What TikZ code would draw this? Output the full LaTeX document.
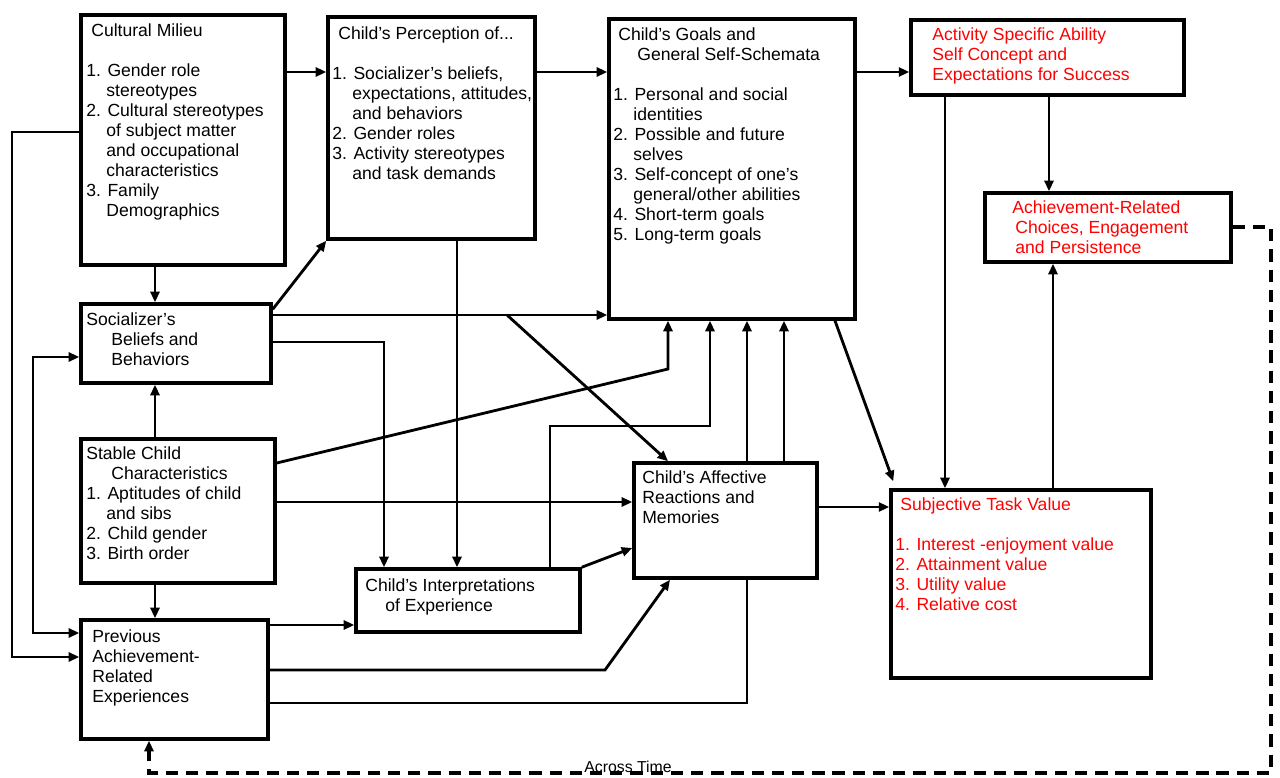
\documentclass[tikz,border=0pt]{standalone}
\usepackage{fontspec}
\setmainfont{Liberation Sans}
\usetikzlibrary{arrows.meta,fit}
\newcommand{\hind}{\hspace*{4mm}}

\begin{document}
\begin{tikzpicture}[x=0.2mm, y=-0.2mm, >={Triangle[length=2.1mm,width=1.8mm]},
		box_style/.style={draw=black, line width=2pt, inner sep=0pt},
		text_style/.style={anchor=north west, inner sep=0pt, align=left, font=\fontsize{10}{11.4}\selectfont},
		red_text/.style={text_style, text=red},
		edge_style/.style={draw=black, line width=1.6pt, ->},
		loop_style/.style={draw=black, line width=2pt, dash pattern=on 7pt off 4.5pt, ->}]
		
		\useasboundingbox (0,0) rectangle (1280,778);
		
		\node[box_style, fit={(81,15) (285,265)}] (milieu) {};
		\node[box_style, fit={(328,17) (535,239)}] (percep) {};
		\node[box_style, fit={(609,19) (855,319)}] (goals) {};
		\node[box_style, fit={(911,20) (1184,95)}] (asc) {};
		\node[box_style, fit={(985,193) (1231,262)}] (choices) {};
		\node[box_style, fit={(81,304) (271,383)}] (social) {};
		\node[box_style, fit={(81,439) (275,583)}] (stable) {};
		\node[box_style, fit={(81,620) (268,739)}] (prev) {};
		\node[box_style, fit={(356,569) (580,632)}] (interp) {};
		\node[box_style, fit={(634,463) (817,578)}] (affect) {};
		\node[box_style, fit={(891,490) (1151,678)}] (stv) {};
		
		\node[text_style] (milieu_t) at (86,23) {\hspace*{1mm}Cultural Milieu\\ \mbox{}\\ 1. Gender role\\ \hind stereotypes\\ 2. Cultural stereotypes\\ \hind of subject matter\\ \hind and occupational\\ \hind characteristics\\ 3. Family\\ \hind Demographics};
		\node[text_style] (percep_t) at (332,26) {\hspace*{1.2mm}Child's Perception of...\\ \mbox{}\\ 1. Socializer's beliefs,\\ \hind expectations, attitudes,\\ \hind and behaviors\\ 2. Gender roles\\ 3. Activity stereotypes\\ \hind and task demands};
		\node[text_style] (goals_t) at (613,27) {\hspace*{1mm}Child's Goals and\\ \hspace*{4.8mm}General Self-Schemata\\ \mbox{}\\ 1. Personal and social\\ \hind identities\\ 2. Possible and future\\ \hind selves\\ 3. Self-concept of one's\\ \hind general/other abilities\\ 4. Short-term goals\\ 5. Long-term goals};
		\node[red_text] (asc_t) at (932,27) {Activity Specific Ability\\ Self Concept and\\ Expectations for Success};
		\node[red_text] (choices_t) at (1012,200) {Achievement-Related\\ \hspace*{0.6mm}Choices, Engagement\\ \hspace*{0.6mm}and Persistence};
		\node[text_style] (social_t) at (86,312) {Socializer's\\ \hspace*{5mm}Beliefs and\\ \hspace*{5mm}Behaviors};
		\node[text_style] (stable_t) at (86,446) {Stable Child\\ \hspace*{5mm}Characteristics\\ 1. Aptitudes of child\\ \hind and sibs\\ 2. Child gender\\ 3. Birth order};
		\node[text_style] (prev_t) at (92,629) {Previous\\ Achievement-\\ Related\\ Experiences};
		\node[text_style] (interp_t) at (365,578) {Child's Interpretations\\ \hspace*{4mm}of Experience};
		\node[text_style] (affect_t) at (642,470) {Child's Affective\\ Reactions and\\ Memories};
		\node[red_text] (stv_t) at (895,497) {\hspace*{1mm}Subjective Task Value\\ \mbox{}\\ 1. Interest -enjoyment value\\ 2. Attainment value\\ 3. Utility value\\ 4. Relative cost};
		\node[anchor=base, inner sep=0pt, font=\fontsize{9}{10}\selectfont] (across) at (628,772) {Across Time};
		
		% top row
		\draw[edge_style] (milieu.east |- 0,72) -- (percep.west |- 0,72);
		\draw[edge_style] (percep.east |- 0,72) -- (goals.west |- 0,72);
		\draw[edge_style] (goals.east |- 0,72) -- (asc.west |- 0,72);
		\draw[edge_style] (1049,0 |- asc.south) -- (1049,0 |- choices.north);
		\draw[edge_style] (945,0 |- asc.south) -- (945,0 |- stv.north);
		\draw[edge_style] (1053,0 |- stv.north) -- (1053,0 |- choices.south);
		\draw[edge_style] (835,0 |- goals.south) -- ([xshift=0.8mm,yshift=1.4mm]stv.north west);
		
		% left column
		\draw[edge_style] (155,0 |- milieu.south) -- (155,0 |- social.north);
		\draw[edge_style] (155,0 |- stable.north) -- (155,0 |- social.south);
		\draw[edge_style] (155,0 |- stable.south) -- (155,0 |- prev.north);
		\draw[edge_style] (milieu.west |- 0,132) -| (12,657) -- (prev.west |- 0,657);
		\draw[edge_style, <->] (social.west |- 0,357) -| (33,633) -- (prev.west |- 0,633);
		
		% socializer
		\draw[edge_style] ([yshift=-1.4mm]social.north east) -- (percep.south west);
		\draw[edge_style] (social.east |- 0,315) -- (goals.west |- 0,315);
		\draw[edge_style] (social.east |- 0,342) -| (384,0 |- interp.north);
		\draw[edge_style] (457,0 |- percep.south) -- (457,0 |- interp.north);
		\coordinate (fork) at (507,315);
		\draw[edge_style] (fork) -- (668,0 |- affect.north);
		
		% stable child
		\draw[edge_style] (stable.east |- 0,463) -- (668,369) -- (668,0 |- goals.south);
		\draw[edge_style] (stable.east |- 0,502) -- (affect.west |- 0,502);
		
		% interpretations and affect
		\draw[edge_style] (550,0 |- interp.north) |- (710,426) -- (710,0 |- goals.south);
		\draw[edge_style] (interp.north east) -- (affect.west |- 0,548);
		\draw[edge_style] (747,0 |- affect.north) -- (747,0 |- goals.south);
		\draw[edge_style] (784,0 |- affect.north) -- (784,0 |- goals.south);
		\draw[edge_style] (affect.east |- 0,507) -- (stv.west |- 0,507);
		
		% previous experiences
		\draw[edge_style] (prev.east |- 0,625) -- (interp.west |- 0,625);
		\draw[edge_style] (prev.east |- 0,670) -- (605,670) -- (670,0 |- affect.south);
		\draw[edge_style, -] (prev.east |- 0,703) -| (747,0 |- affect.south);
		
		% feedback across time
		\draw[loop_style] (choices.east |- 0,227) -- (1271,227) -- (1271,773) -- (149,773) -- (149,0 |- prev.south);
		
\end{tikzpicture}
\end{document}
